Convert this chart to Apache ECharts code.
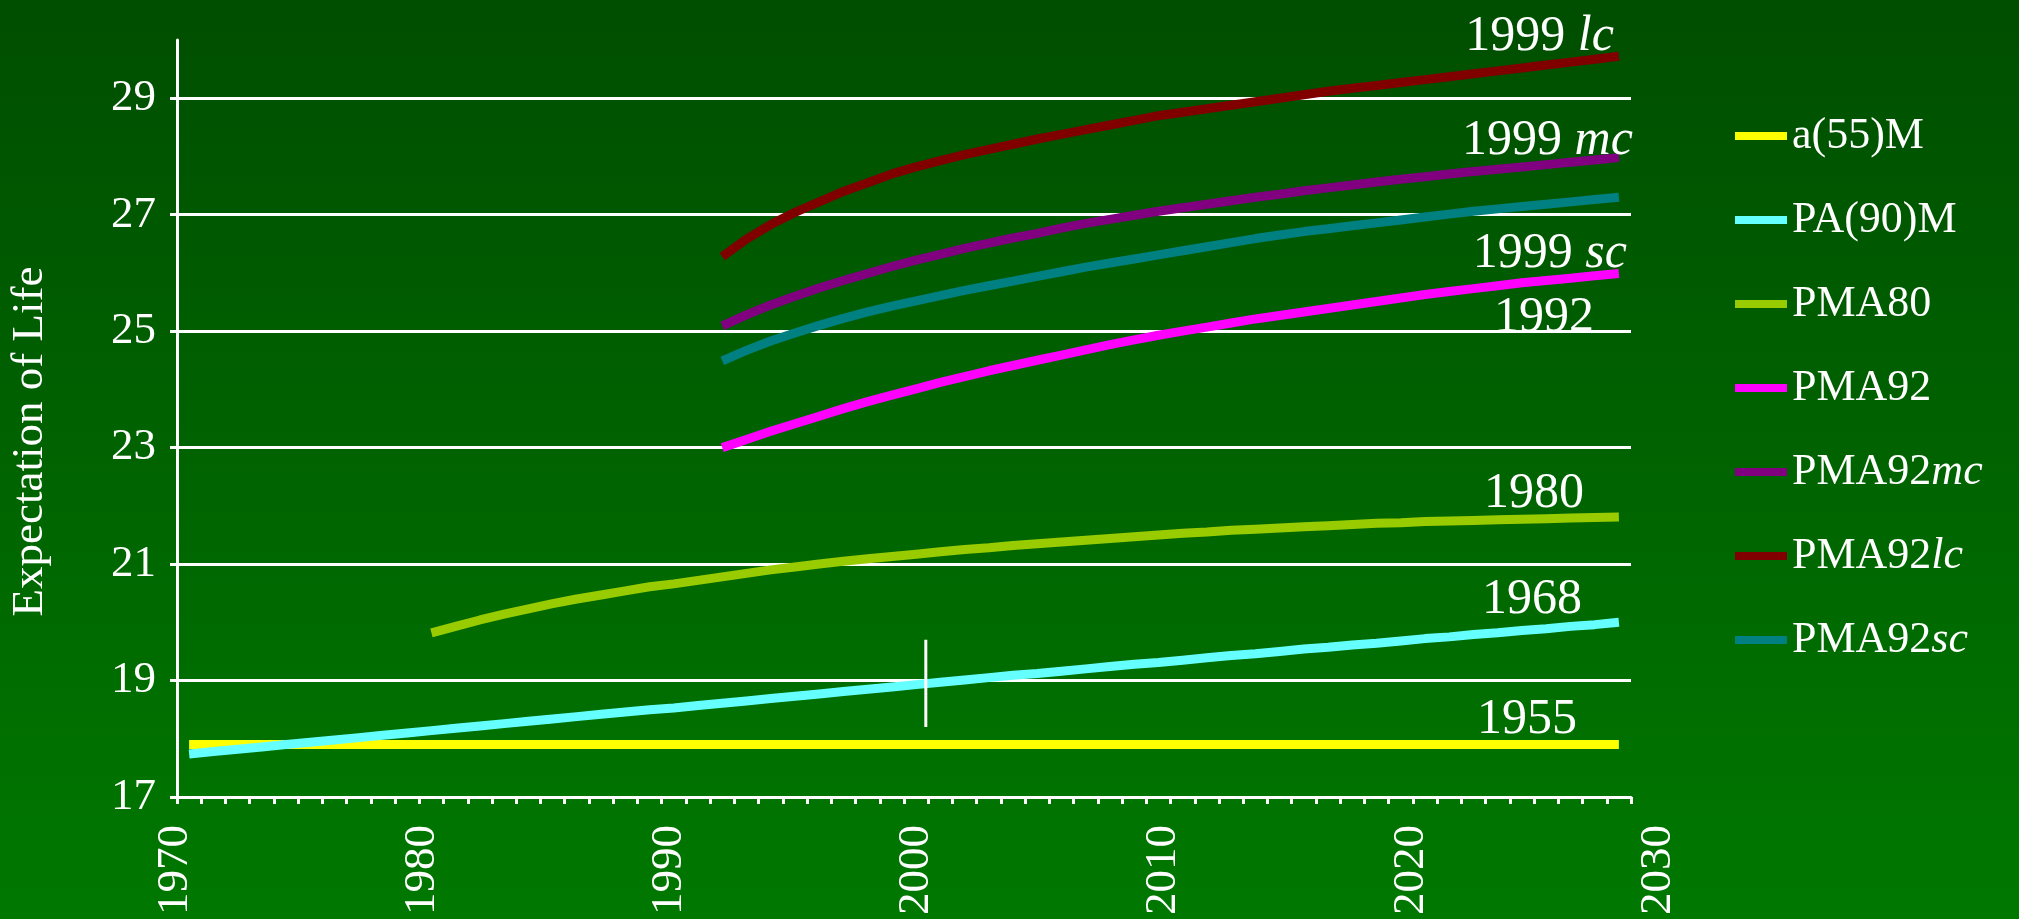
<!DOCTYPE html>
<html>
<head>
<meta charset="utf-8">
<title>Expectation of Life</title>
<style>
  html, body { margin: 0; padding: 0; background: #006000; }
  #chart { width: 2019px; height: 919px; }
</style>
<script src="https://cdn.jsdelivr.net/npm/echarts@6/dist/echarts.min.js"></script>
</head>
<body>
<div id="chart"></div>
<script>
// ---- data -------------------------------------------------------------
// calendar years plotted (one category per year)
const years = [];
for (let y = 1970; y <= 2029; y++) years.push(String(y));

// value-axis tick labels
const lifeTicks = [17, 19, 21, 23, 25, 27, 29];
const yearLabelMin = 1970;
const yearLabelMax = 2030;
const yearLabelStep = 10;

// series names, in legend order
const seriesNames = ['a(55)M', 'PA(90)M', 'PMA80', 'PMA92', 'PMA92mc', 'PMA92lc', 'PMA92sc'];

// expectation of life at 65 by calendar year
const a55mStart = 1970;
const a55m = [
  17.9, 17.9, 17.9, 17.9, 17.9, 17.9, 17.9, 17.9, 17.9, 17.9,
  17.9, 17.9, 17.9, 17.9, 17.9, 17.9, 17.9, 17.9, 17.9, 17.9,
  17.9, 17.9, 17.9, 17.9, 17.9, 17.9, 17.9, 17.9, 17.9, 17.9,
  17.9, 17.9, 17.9, 17.9, 17.9, 17.9, 17.9, 17.9, 17.9, 17.9,
  17.9, 17.9, 17.9, 17.9, 17.9, 17.9, 17.9, 17.9, 17.9, 17.9,
  17.9, 17.9, 17.9, 17.9, 17.9, 17.9, 17.9, 17.9, 17.9, 17.9
];

const pa90mStart = 1970;
const pa90m = [
  17.74, 17.78, 17.82, 17.86, 17.90, 17.94, 17.98, 18.02, 18.06, 18.10,
  18.14, 18.18, 18.22, 18.26, 18.30, 18.34, 18.38, 18.42, 18.46, 18.50,
  18.53, 18.57, 18.61, 18.65, 18.69, 18.73, 18.77, 18.81, 18.85, 18.89,
  18.93, 18.97, 19.01, 19.05, 19.09, 19.12, 19.16, 19.20, 19.24, 19.28,
  19.31, 19.35, 19.39, 19.43, 19.46, 19.50, 19.54, 19.57, 19.61, 19.64,
  19.68, 19.72, 19.75, 19.79, 19.82, 19.86, 19.89, 19.93, 19.96, 20.00
];

const pma80Start = 1980;
const pma80 = [
  19.82, 19.93, 20.04, 20.14, 20.23, 20.32, 20.40, 20.47, 20.54, 20.61,
  20.66, 20.72, 20.78, 20.84, 20.90, 20.95, 21.00, 21.05, 21.09, 21.13,
  21.17, 21.21, 21.25, 21.28, 21.32, 21.35, 21.38, 21.41, 21.44, 21.47,
  21.50, 21.53, 21.55, 21.58, 21.60, 21.62, 21.64, 21.66, 21.68, 21.70,
  21.71, 21.73, 21.74, 21.75, 21.76, 21.77, 21.78, 21.79, 21.80, 21.81
];

const pma92Start = 1992;
const pma92 = [
  23.00, 23.14, 23.28, 23.41, 23.54, 23.67, 23.79, 23.90,
  24.01, 24.12, 24.22, 24.32, 24.41, 24.50, 24.59, 24.68, 24.77, 24.85,
  24.93, 25.00, 25.07, 25.14, 25.21, 25.27, 25.33, 25.39, 25.45, 25.51,
  25.57, 25.63, 25.68, 25.73, 25.78, 25.83, 25.87, 25.91, 25.95, 25.99
];

const pma92mc = [
  25.09, 25.28, 25.45, 25.60, 25.74, 25.87, 25.99, 26.11,
  26.22, 26.32, 26.42, 26.51, 26.60, 26.68, 26.77, 26.85, 26.92, 26.99,
  27.06, 27.12, 27.18, 27.24, 27.30, 27.35, 27.41, 27.46, 27.51, 27.56,
  27.61, 27.65, 27.70, 27.74, 27.78, 27.82, 27.86, 27.90, 27.94, 27.98
];

const pma92lc = [
  26.28, 26.58, 26.83, 27.04, 27.22, 27.40, 27.55, 27.70,
  27.82, 27.93, 28.03, 28.12, 28.21, 28.30, 28.38, 28.46, 28.54, 28.62,
  28.70, 28.76, 28.82, 28.88, 28.94, 29.00, 29.06, 29.12, 29.17, 29.22,
  29.27, 29.32, 29.37, 29.42, 29.47, 29.52, 29.57, 29.62, 29.67, 29.72
];

const pma92sc = [
  24.49, 24.67, 24.83, 24.97, 25.10, 25.22, 25.33, 25.43,
  25.52, 25.61, 25.70, 25.78, 25.86, 25.94, 26.02, 26.10, 26.17, 26.24,
  26.31, 26.38, 26.45, 26.52, 26.59, 26.65, 26.71, 26.76, 26.81, 26.86,
  26.91, 26.96, 27.01, 27.06, 27.10, 27.14, 27.18, 27.22, 27.26, 27.30
];

// table year labels written beside the curve ends
const endNotes = {
  'a(55)M': ['1955'],
  'PA(90)M': ['1968'],
  'PMA80': ['1980'],
  'PMA92': ['1999 sc', '1992'],
  'PMA92mc': ['1999 mc'],
  'PMA92lc': ['1999 lc']
};

// short vertical marker on the PA(90)M curve
const markerYear = 2000.9;
const markerLow = 18.2;
const markerHigh = 19.7;

// ---- styling ----------------------------------------------------------
const FONT = '"Liberation Serif", "Times New Roman", Times, serif';
const WHITE = '#ffffff';

const seriesColors = {
  'a(55)M': '#ffff00',
  'PA(90)M': '#66ffff',
  'PMA80': '#99cc00',
  'PMA92': '#ff00ff',
  'PMA92mc': '#800080',
  'PMA92lc': '#800000',
  'PMA92sc': '#008080'
};

// label anchor (right edge, vertical middle) relative to the curve end, px
const noteOffsets = {
  '1955': [-42, -25],
  '1968': [-37, -22],
  '1980': [-35, -23],
  '1999 sc': [8, -20],
  '1992': [-25, 44],
  '1999 mc': [14, -17],
  '1999 lc': [-5, -19]
};

const seriesValues = {
  'a(55)M': [a55mStart, a55m],
  'PA(90)M': [pa90mStart, pa90m],
  'PMA80': [pma80Start, pma80],
  'PMA92': [pma92Start, pma92],
  'PMA92mc': [pma92Start, pma92mc],
  'PMA92lc': [pma92Start, pma92lc],
  'PMA92sc': [pma92Start, pma92sc]
};

function alignToYears(start, values) {
  return years.map(y => {
    const i = Number(y) - start;
    return i >= 0 && i < values.length ? values[i] : null;
  });
}

// "1999 lc" -> plain year followed by an italic suffix
function richNote(text) {
  const m = text.match(/^(\d{4})(?: (\w+))?$/);
  return m && m[2] ? '{n|' + m[1] + ' }{i|' + m[2] + '}' : '{n|' + text + '}';
}

function richLegend(name) {
  const m = name.match(/^(PMA92)(mc|lc|sc)$/);
  return m ? '{n|' + m[1] + '}{i|' + m[2] + '}' : '{n|' + name + '}';
}

const noteRich = {
  n: { color: WHITE, fontFamily: FONT, fontSize: 50 },
  i: { color: WHITE, fontFamily: FONT, fontSize: 50, fontStyle: 'italic' }
};

const lineSeries = seriesNames.map(name => {
  const [start, values] = seriesValues[name];
  const lastYear = years[years.length - 1];
  const lastValue = values[values.length - 1];
  const notes = endNotes[name] || [];
  return {
    name: name,
    type: 'line',
    xAxisIndex: 0,
    yAxisIndex: 0,
    data: alignToYears(start, values),
    symbol: 'none',
    showSymbol: false,
    connectNulls: false,
    silent: true,
    color: seriesColors[name],
    lineStyle: { color: seriesColors[name], width: 9, cap: 'butt', join: 'round' },
    markPoint: notes.length ? {
      silent: true,
      symbol: 'circle',
      symbolSize: 1,
      itemStyle: { color: 'rgba(0,0,0,0)' },
      data: notes.map(text => ({
        coord: [lastYear, lastValue],
        label: {
          show: true,
          position: 'inside',
          align: 'right',
          verticalAlign: 'middle',
          offset: noteOffsets[text],
          formatter: richNote(text),
          rich: noteRich
        }
      }))
    } : undefined
  };
});

const markerSeries = {
  name: 'marker',
  type: 'line',
  xAxisIndex: 2,
  yAxisIndex: 0,
  data: [[markerYear, markerLow], [markerYear, markerHigh]],
  symbol: 'none',
  silent: true,
  lineStyle: { color: WHITE, width: 3 },
  z: 5
};

const chart = echarts.init(document.getElementById('chart'), null, { renderer: 'canvas' });

chart.setOption({
  animation: false,
  backgroundColor: {
    type: 'linear', x: 0, y: 0, x2: 0, y2: 1,
    colorStops: [
      { offset: 0, color: '#004e00' },
      { offset: 1, color: '#007800' }
    ]
  },
  textStyle: { fontFamily: FONT },
  grid: [
    { left: 175, right: 388, top: 40, bottom: 122 },
    { left: 175, right: 361, top: 40, bottom: 122 }
  ],
  legend: {
    data: seriesNames,
    orient: 'vertical',
    left: 1730,
    top: 106,
    icon: 'rect',
    itemWidth: 52,
    itemHeight: 8,
    itemGap: 34,
    selectedMode: false,
    formatter: richLegend,
    textStyle: {
      color: WHITE,
      fontFamily: FONT,
      fontSize: 44,
      lineHeight: 50,
      rich: {
        n: { color: WHITE, fontFamily: FONT, fontSize: 44, lineHeight: 50 },
        i: { color: WHITE, fontFamily: FONT, fontSize: 44, lineHeight: 50, fontStyle: 'italic' }
      }
    }
  },
  xAxis: [
    {
      // one category per calendar year, ticks on the year boundaries
      type: 'category',
      gridIndex: 0,
      data: years,
      boundaryGap: true,
      axisLine: { show: true, lineStyle: { color: WHITE, width: 3 } },
      axisTick: { show: true, interval: 0, alignWithLabel: false, length: 7, lineStyle: { color: WHITE, width: 3 } },
      axisLabel: { show: false },
      splitLine: { show: false }
    },
    {
      // decade labels
      type: 'value',
      gridIndex: 1,
      min: yearLabelMin,
      max: yearLabelMax,
      interval: yearLabelStep,
      axisLine: { show: false },
      axisTick: { show: false },
      splitLine: { show: false },
      axisLabel: {
        show: true,
        rotate: 90,
        margin: 28,
        color: WHITE,
        fontFamily: FONT,
        fontSize: 45,
        formatter: v => String(v)
      }
    },
    {
      type: 'value',
      gridIndex: 0,
      min: yearLabelMin,
      max: yearLabelMax,
      show: false
    }
  ],
  yAxis: [
    {
      type: 'value',
      gridIndex: 0,
      min: 17,
      max: 30,
      name: 'Expectation of Life',
      nameLocation: 'middle',
      nameRotate: 90,
      nameGap: 124,
      nameTextStyle: { color: WHITE, fontFamily: FONT, fontSize: 45, padding: [0, 46, 0, 0] },
      axisLine: { show: true, lineStyle: { color: WHITE, width: 3 } },
      axisTick: { show: true, length: 7, customValues: lifeTicks, lineStyle: { color: WHITE, width: 3 } },
      axisLabel: {
        show: true,
        customValues: lifeTicks,
        margin: 21,
        color: WHITE,
        fontFamily: FONT,
        fontSize: 45
      },
      splitLine: { show: true, lineStyle: { color: WHITE, width: 3 } }
    },
    {
      type: 'value',
      gridIndex: 1,
      min: 17,
      max: 30,
      show: false
    }
  ],
  series: lineSeries.concat([markerSeries])
});
</script>
</body>
</html>
